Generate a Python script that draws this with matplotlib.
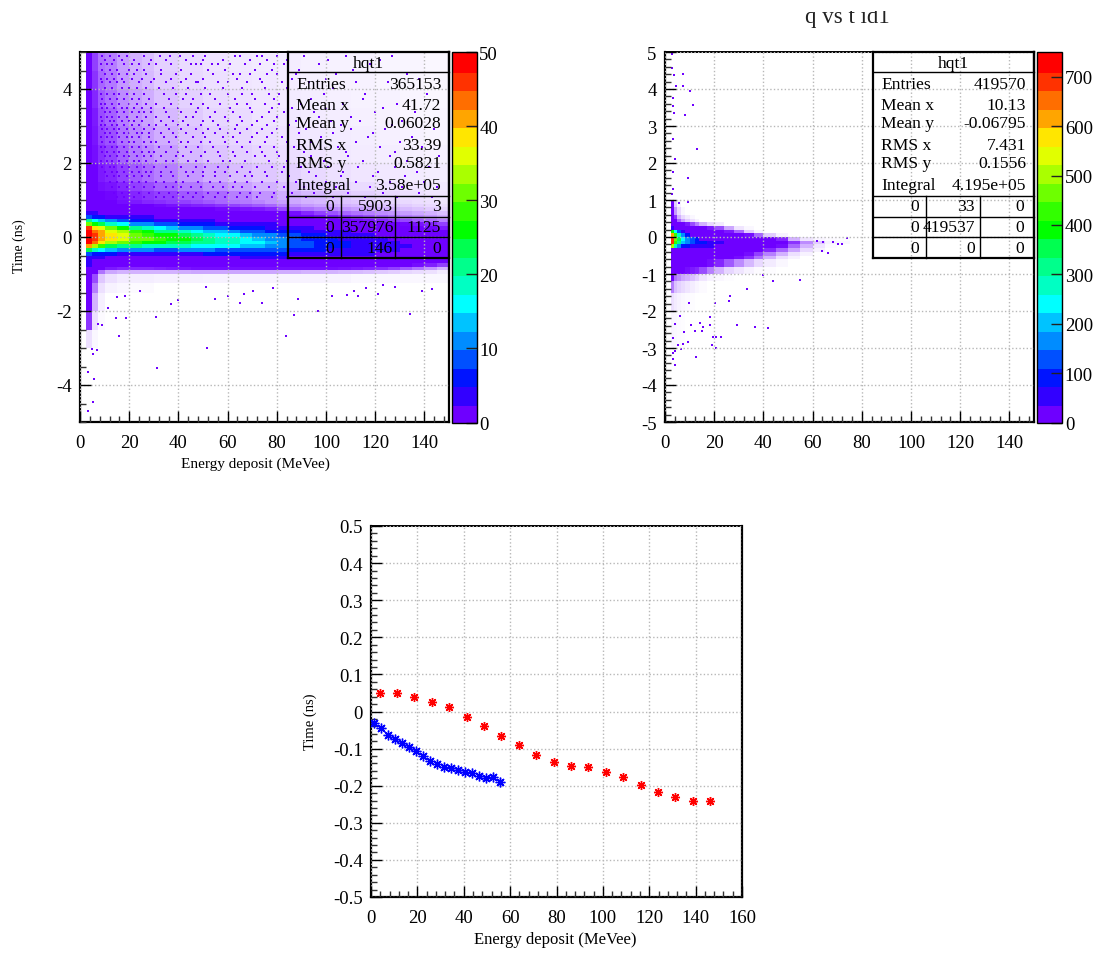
import numpy as np
import matplotlib
matplotlib.use("Agg")
import matplotlib.pyplot as plt
from matplotlib.colors import ListedColormap, BoundaryNorm
from matplotlib.transforms import Bbox
from matplotlib.ticker import MultipleLocator

plt.rcParams['font.family'] = ['Liberation Serif', 'DejaVu Serif']

W, H = 1099, 954

palette_rgb = [(110,0,255),(50,0,255),(0,20,255),(0,80,255),(0,140,255),(0,195,255),(0,255,255),
               (0,255,195),(0,255,140),(0,255,80),(0,255,0),(50,255,0),(110,255,0),(170,255,0),
               (225,255,0),(255,230,0),(255,165,0),(255,110,0),(255,50,0),(255,0,0)]

# ---- left histogram: counts per bin; below 1 = share of occupied bins
# central band, -1 to 1 ns
band_e_edges = [2.5,5,7.5,10,15,20,25,30,35,40,45,50,55,60,65,70,75,80,85,90,95,100,105,110,115,120,125,130,135,140,145,150]
band_t_edges = [1,.9,.8,.7,.6,.5,.4,.3,.2,.1,0,-.1,-.2,-.3,-.4,-.5,-.6,-.7,-.8,-.9,-1]
band_counts = [
 [2,1.4,1.1,1,.95,.9,.85,.82,.78,.75,.7,.65,.6,.55,.52,.48,.42,.38,.34,.3,.28,.26,.24,.22,.2,.18,.16,.15,.13,.12,.1],
 [2,1.5,1.2,1.1,1.05,1,1,.97,.93,.9,.87,.85,.8,.75,.7,.65,.6,.5,.45,.4,.36,.33,.3,.28,.26,.24,.22,.2,.17,.15,.13],
 [2.2,1.8,1.5,1.4,1.3,1.2,1.2,1.15,1.1,1.05,1.02,1,.97,.95,.92,.9,.85,.7,.62,.56,.5,.46,.42,.38,.34,.32,.3,.27,.24,.2,.17],
 [3,2.5,2.2,2,1.8,1.7,1.6,1.55,1.45,1.4,1.35,1.3,1.25,1.2,1.15,1.1,1.05,1,.95,.85,.75,.68,.6,.55,.5,.45,.42,.38,.34,.3,.25],
 [8,6,5,4,3,3,2.5,2.3,2.1,2,1.9,1.8,1.7,1.6,1.5,1.4,1.3,1.15,1.05,1.02,.95,.9,.82,.75,.68,.62,.55,.5,.45,.4,.33],
 [20,16,13,10,8,6,5,4.2,3.8,3.2,2.8,2.5,2.3,2.2,2.1,2,1.8,1.5,1.35,1.25,1.12,1.08,1,.97,.92,.85,.78,.72,.65,.58,.5],
 [32,27,23,18,15,12,10,8.5,7.5,6,5.5,5,4.5,4,3.5,3,2.7,2.3,2.1,1.9,1.6,1.45,1.3,1.2,1.1,1.05,1,.98,.92,.85,.75],
 [45,38,35,30,26,21,18,16,14,11.5,10,9,8,7,6,5,4.5,3.8,3.2,2.8,2.4,2,1.8,1.6,1.4,1.25,1.15,1.08,1.03,.98,.9],
 [50,44,40,36,33,28,25,22,20,17.5,15.5,14,12.5,11,9.5,8,7,6,5,4,3.5,2.9,2.5,2.2,1.9,1.6,1.4,1.25,1.15,1.08,1],
 [52,46,42,38,35,32,29,27,25,22.5,20.5,19,17,15,13,12,10,8.5,7.5,6,5,4.2,3.5,3,2.6,2.2,1.9,1.6,1.4,1.25,1.15],
 [52,47,42,38,35,32,30,28.5,27,25,23,21,19.5,18,16,14,12,10,9,7,6,5,4.2,3.6,3.2,2.8,2.3,2,1.7,1.5,1.3],
 [50,43,38,33,30,28,26,25,24,23,21,20,19,18,16.5,15,13,11,9.5,8,7,5.8,5,4.4,3.8,3.2,2.8,2.4,2,1.8,1.5],
 [42,34,28,24,22,20,19,18,18,18,17,16,15.5,15,14,13,12,10,9,8,7,5.8,5,4.5,3.9,3.4,3,2.6,2.2,1.9,1.6],
 [24,18,15,13,11,10,10,9.5,9.5,10,10,10,9.5,9.5,9,9,8.5,7.5,7,6,5.5,4.8,4.3,3.9,3.4,3,2.7,2.4,2.1,1.9,1.6],
 [9,6,5,5,4.5,4,4,4,4.2,4.5,4.8,5,5,5,5,5,5,5,4.5,4.2,4,3.5,3,2.8,2.6,2.4,2.2,2,1.8,1.6,1.4],
 [4,3,2.5,2.2,2,2,2,2,2,2,2.1,2.2,2.3,2.4,2.5,2.5,2.5,2.5,2.4,2.3,2.2,2.1,2,1.9,1.8,1.7,1.6,1.5,1.4,1.3,1.2],
 [3,2,1.8,1.5,1.4,1.3,1.3,1.3,1.3,1.3,1.3,1.3,1.3,1.3,1.3,1.3,1.3,1.3,1.3,1.3,1.3,1.25,1.25,1.2,1.2,1.15,1.15,1.1,1.1,1.05,1],
 [2.6,1.6,1.3,1.1,1.1,1.1,1.1,1.1,1.1,1.1,1.1,1.1,1.1,1.1,1.1,1.1,1.1,1.1,1.1,1.1,1.1,1.1,1.05,1.05,1.05,1,1,1,.95,.88,.75],
 [2.4,1.3,1,.9,.85,.85,.85,.88,.9,.92,.95,.95,.95,.95,.95,.95,.95,.95,.95,.95,.95,.95,.93,.9,.87,.82,.75,.65,.55,.42,.3],
 [2,1,.55,.35,.3,.3,.3,.3,.3,.33,.35,.35,.35,.35,.35,.35,.35,.33,.33,.3,.3,.3,.28,.27,.25,.22,.2,.16,.14,.12,.08],
]
# upper tail, 1 to 5 ns
upper_e_edges = [2.5,5,7.5,10,15,20,25,30,40,50,60,70,80,90,100,110,120,130,140,150]
upper_t_edges = [5,4.5,4,3.5,3,2.5,2,1.5,1.25,1]
upper_counts = [
 [1.1,.75,.55,.5,.38,.3,.25,.18,.14,.11,.09,.08,.07,.06,.05,.05,.04,.04,.03],
 [1.1,.8,.6,.52,.4,.32,.27,.2,.15,.12,.1,.09,.07,.06,.05,.05,.04,.04,.03],
 [1.2,.85,.65,.56,.45,.38,.32,.24,.18,.14,.12,.1,.08,.07,.06,.05,.05,.04,.03],
 [1.4,.9,.7,.62,.5,.42,.36,.28,.21,.16,.14,.11,.09,.08,.07,.06,.05,.04,.04],
 [1.6,.92,.75,.68,.55,.47,.4,.32,.24,.19,.16,.13,.11,.09,.08,.07,.06,.05,.04],
 [1.8,.95,.82,.74,.62,.52,.46,.38,.28,.23,.19,.16,.13,.11,.09,.08,.07,.06,.05],
 [2,1.0,.9,.85,.75,.65,.58,.5,.4,.33,.26,.22,.18,.15,.12,.1,.09,.08,.07],
 [2,1.1,.95,.92,.85,.75,.7,.62,.52,.44,.37,.3,.24,.19,.16,.14,.12,.1,.09],
 [2,1.2,1.0,.98,.92,.85,.8,.75,.65,.58,.5,.42,.32,.27,.22,.18,.15,.12,.1],
]
# lower tail, -1 to -3 ns
lower_e_edges = [2.5,5,7.5,10,15,20,30,50,80,110,150]
lower_t_edges = [-1,-1.25,-1.5,-2,-2.5,-3]
lower_counts = [
 [1.5,.7,.22,.12,.08,.07,.06,.05,.05,.03],
 [1.3,.5,.12,.05,.03,.02,0,0,0,0],
 [1.1,.3,.06,0,0,0,0,0,0,0],
 [.8,.12,.02,0,0,0,0,0,0,0],
 [.12,.03,0,0,0,0,0,0,0,0],
]
# isolated filled bins: one time per row, the energies on that row
left_speck_t = [4.9,4.78,4.67,4.52,4.4,4.28,4.18,4.02,3.86,3.73,3.6,3.48,3.37,3.25,3.14,3.03,2.92,2.81,2.7,2.56,2.42,2.31,2.2,2.05,1.88,1.77,1.66,1.5,1.35,1.2,1.08]
left_speck_e = [
 [9,12,16,19,26,32.5,36.6,40.6,46,51,63,65,72,74,80,91,108,127],
 [10,14,17,22,29,35,43,50,58,69,76,84,101,122],
 [8.5,11,13,18,21,24,28,31,37,45,47,49,53.5,56,61,67,73,79,83,97,118],
 [9,12,15,20,23,26,33,41,52,59,71,78,89,111],
 [10,13,16,19,22,27,33,39,45,54,62,65,69,76,80,88,104,133],
 [8.5,11,14,17,21,25,30,37,43,50,64,73,86,100,138],
 [9,12,15,18,24,29,35,41,47,48,56,60,68,74,82,93,112,125],
 [10,13,17,20,23,27,32,38,44,51,58,66,75,84,103],
 [8.5,11,14,16,19,22,26,34,39,43,49,53,60,66,70,77,81,99,116,141],
 [9,12,15,18,21,24,28,36,42,46,55,63,71,79,94,115],
 [8.5,10,13,16,20,23,27,31,37,45,50,57,64,68,75,81,90,107,129],
 [9,11,14,17,19,22,25,29,34,40,48,52,61,69,78,86,100,123],
 [10,12,15,18,21,24,26,29,35,41,47,55,62,70,77,83,95,120,136],
 [8.5,11,13,16,19,23,27,31,36,43,46,53,59,65,74,80,97,110],
 [9,12,14,17,20,22,25,33,38,42,50,54,60,66,72,79,88,102,114,131],
 [8.5,10,13,15,18,21,24,28,31,35,40,44,49,56,64,70,76,85,106,127],
 [9,11,14,16,19,22,26,30,36,41,47,52,57,63,68,74,80,92,110,124,144],
 [10,12,15,18,20,23,25,28,33,38,43,50,55,60,65,72,78,89,103,119],
 [8.5,11,13,16,19,21,24,28,34,39,46,51,58,62,70,76,82,98,117,135],
 [9,12,14,17,20,22,26,29,31,36,41,44,49,53,59,64,69,75,84,94,112,130],
 [8.5,10,13,15,18,21,24,27,32,37,43,48,54,60,66,73,79,87,105,122,139],
 [9,11,14,16,19,22,25,28,30,35,40,45,51,56,62,68,74,80,91,108,128],
 [10,12,15,18,20,23,26,29,33,39,42,49,57,63,71,75,81,94,109,126,146],
 [8.5,11,13,16,19,22,24,27,31,35,38,44,47,52,58,61,67,77,84,99,115,133],
 [9,12,14,17,20,23,26,30,35,41,47,51,56,60,66,72,78,83,90,101,113,128,142],
 [10,13,15,18,21,24,27,29,33,37,43,46,50,55,59,64,69,75,82,93,107,121,137],
 [11,14,16,19,22,25,28,33,38,44,50,55,61,67,70,76,85,96,106,119,132],
 [12,15,18,21,24,27,31,34,39,42,48,53,57,63,68,74,80,88,100,112,126,140],
 [13,16,19,22,26,30,35,38,41,45,49,54,58,62,66,71,77,83,91,104,118,131,145],
 [14,17,20,24,28,32,36,40,44,47,52,56,60,65,69,73,79,86,95,109,123,138],
 [15,18,22,26,31,34,38,42,46,50,55,59,64,68,72,78,84,92,103,116,129,143],
]
left_low_e = [5.4,3.3,31.4,51.5,83.6,87,134,96.8,30.9,14.6,18.7,15.7,11.5,14.9,18.3,24.4,37,39.7,51.1,54.9,60.3,65,66.7,70.2,73.8,88.7,102.3,108.4,111.4,112.9,116.3,123.3,128.1,138.9,143,121.3,78.6,5.4,6.8,4.7,3.4,5.8,7.5,8.8]
left_low_t = [-4.47,-4.71,-3.55,-3.01,-2.68,-2.12,-2.09,-1.99,-2.17,-2.2,-2.2,-2.68,-1.93,-1.63,-1.6,-1.46,-1.82,-1.71,-1.36,-1.68,-1.59,-1.79,-1.54,-1.47,-1.79,-1.68,-1.59,-1.57,-1.45,-1.6,-1.39,-1.3,-1.36,-1.47,-1.41,-1.54,-1.39,-3.16,-3.05,-3.03,-3.66,-3.84,-2.35,-2.38]

# ---- right histogram
right_e_edges = [2.5,3.5,5,6.5,8,10,12,14,17,20,24,28,32,36,40,45,50,55,60,65,70,75]
right_t_edges = [1,.8,.6,.5,.4,.3,.2,.1,0,-.1,-.2,-.3,-.4,-.5,-.6,-.8,-1,-1.2,-1.5,-2,-3]
right_counts = [
 [1.5,.2,.05,0,0,0,0,0,0,0,0,0,0,0,0,0,0,0,0,0,0],
 [3,.4,.15,.03,0,0,0,0,0,0,0,0,0,0,0,0,0,0,0,0,0],
 [5,.8,.3,.15,.08,.03,0,0,0,0,0,0,0,0,0,0,0,0,0,0,0],
 [6,1.1,.6,.35,.2,.12,.05,0,0,0,0,0,0,0,0,0,0,0,0,0,0],
 [8,3,1.2,1.05,.9,.7,.5,.3,.15,.08,0,0,0,0,0,0,0,0,0,0,0],
 [60,35,14,5,2,1.3,1.1,1,.9,.7,.35,.1,.03,0,0,0,0,0,0,0,0],
 [400,260,130,50,12,3,1.5,1.1,1.05,1,.9,.6,.2,.05,0,0,0,0,0,0,0],
 [600,430,270,180,90,30,8,3,1.6,1.2,1.05,1,.95,.6,.2,.05,0,0,0,0,0],
 [700,480,340,250,170,120,75,35,10,4,2,1.3,1.1,1.05,1,.85,.3,.1,.04,.02,.01],
 [680,440,300,210,160,130,110,90,70,40,15,6,2.5,1.3,1.1,1.02,.8,.45,.2,.05,.03],
 [500,280,160,100,80,70,65,55,40,22,8,3.5,1.8,1.2,1.05,.95,.6,.3,.1,.02,0],
 [30,18,10,7,6,5,4.5,4,3,2,1.5,1.2,1.05,1,.85,.6,.35,.15,.05,0,0],
 [5,2.5,2,1.7,1.5,1.4,1.3,1.2,1.15,1.1,1.05,1,.95,.75,.5,.3,.12,.05,0,0,0],
 [4,2,1.5,1.3,1.2,1.1,1.1,1.05,1.05,1,1,.95,.8,.55,.3,.12,.05,0,0,0,0],
 [3,1.6,1.2,1.1,1.05,1.02,1,1,.95,.85,.65,.45,.28,.15,.08,.03,0,0,0,0,0],
 [2,1.1,1.02,1,.95,.9,.85,.7,.5,.3,.16,.1,.05,.02,.01,0,0,0,0,0,0],
 [1.2,.55,.45,.35,.3,.25,.18,.1,.05,.03,.01,0,0,0,0,0,0,0,0,0,0],
 [.5,.25,.18,.14,.1,.07,.04,.02,0,0,0,0,0,0,0,0,0,0,0,0,0],
 [.12,.08,.05,.03,.02,.01,0,0,0,0,0,0,0,0,0,0,0,0,0,0,0],
 [.04,.03,.02,.01,0,0,0,0,0,0,0,0,0,0,0,0,0,0,0,0,0],
]
right_speck_e = [18.3,18.3,15.6,14.2,10.4,29.4,36.5,41.7,40,43.8,54.9,33.2,26.4,20.3,26,9.9,6.1,4.1,7.9,12.2,14.9,19.6,20.6,22.6,9.5,19,20.6,5.4,7.5,6.4,3.4,3.1,4.1,12.5,3.4,4.1,
                 73.8,71.8,70.5,68.2,66.4,64.4,63.7,61.7,
                 3.8,7.5,4.4,7.5,10.2,3.4,11.2,3.4,3.8,8,13,4,9.5,3.4,3.4,2.7,2.7,3.4,2.7,9.5,5.8]
right_speck_t = [-2.17,-2.38,-2.44,-2.32,-2.37,-2.37,-2.44,-2.47,-1.03,-1.2,-1.16,-1.41,-1.59,-1.79,-1.74,-1.78,-2.13,-2.35,-2.58,-2.55,-2.55,-2.69,-2.69,-2.71,-2.85,-2.92,-3.01,-2.91,-2.89,-3.03,-2.74,-3.14,-3.09,-3.23,-3.3,-3.46,
                 -.04,-.19,-.19,-.14,-.44,-.14,-.37,-.1,
                 4.37,4.4,4.07,4.07,3.94,3.75,3.56,3.53,3.34,3.29,2.37,2.1,1.59,1.77,2.65,4.95,4.58,1.3,1.17,.94,.92]

# ---- lower panel
red_x = [3.75,11.25,18.75,26.25,33.75,41.25,48.75,56.25,63.75,71.25,78.75,86.25,93.75,101.25,108.75,116.25,123.75,131.25,138.75,146.25]
red_y = [.05,.05,.04,.026,.011,-.0135,-.038,-.066,-.089,-.118,-.135,-.146,-.15,-.164,-.177,-.197,-.216,-.231,-.24,-.24]
red_err = [.004,.003,.003,.003,.003,.003,.003,.003,.003,.003,.003,.004,.004,.004,.004,.005,.005,.006,.008,.010]
blue_x = [1.5,4.5,7.5,10.5,13.5,16.5,19.5,22.5,25.5,28.5,31.5,34.5,37.5,40.5,43.5,46.5,49.5,52.5,55.5]
blue_y = [-.03,-.045,-.062,-.075,-.084,-.095,-.106,-.119,-.134,-.142,-.149,-.152,-.158,-.164,-.166,-.174,-.18,-.176,-.19]
blue_err = [.002,.002,.002,.002,.002,.002,.002,.002,.002,.003,.003,.003,.003,.004,.004,.005,.006,.007,.012]

# ---- stat boxes
left_stats = [("Entries","365153",85),("Mean x","41.72",106),("Mean y","0.06028",124),
              ("RMS x","33.39",146),("RMS y","0.5821",164),("Integral","3.58e+05",186)]
left_cells = [["0","5903","3"],["0","357976","1125"],["0","146","0"]]
right_stats = [("Entries","419570",85),("Mean x","10.13",106),("Mean y","-0.06795",124),
               ("RMS x","7.431",146),("RMS y","0.1556",164),("Integral","4.195e+05",186)]
right_cells = [["0","33","0"],["0","419537","0"],["0","0","0"]]

TICK_PT = 13.5
STAT_PT = 12.6
fig = plt.figure(figsize=(W/100, H/100), dpi=100)

def px_axes(x0, y0, x1, y1):
    return fig.add_axes([x0/W, 1-y1/H, (x1-x0)/W, (y1-y0)/H])

def style(ax, xmaj, xmin, ymaj, ymin, top_dotted=True):
    ax.xaxis.set_major_locator(MultipleLocator(xmaj)); ax.xaxis.set_minor_locator(MultipleLocator(xmin))
    ax.yaxis.set_major_locator(MultipleLocator(ymaj)); ax.yaxis.set_minor_locator(MultipleLocator(ymin))
    ax.tick_params(which='major', direction='in', length=8, width=1, labelsize=TICK_PT, pad=6, color='black')
    ax.tick_params(axis='x', which='major', pad=9)
    ax.tick_params(which='minor', direction='in', length=4, width=1, color='#333333')
    ax.grid(True, which='major', color='#b8b8b8', linestyle=(0,(1,1.6)), linewidth=1)
    ax.set_axisbelow(False)
    for s in ('left','bottom','right'):
        ax.spines[s].set_linewidth(1.6)
    ax.spines['top'].set_linewidth(1.4)
    if top_dotted:
        ax.spines['top'].set_linestyle((0,(1,1)))

palette_rgb_norm = [tuple(c/255 for c in rgb) for rgb in palette_rgb]
cmap = ListedColormap(palette_rgb_norm)

def heat(ax, e_edges, t_edges, counts, norm):
    arr = np.array(counts, dtype=float)
    assert arr.shape == (len(t_edges)-1, len(e_edges)-1)
    share = np.where(arr < 1, arr, 0.0)
    ax.pcolormesh(e_edges, t_edges, np.ones_like(arr), cmap=ListedColormap([palette_rgb_norm[0]]),
                  alpha=share, edgecolors='none', antialiased=False, zorder=1)
    return ax.pcolormesh(e_edges, t_edges, np.ma.masked_less(arr, 1), cmap=cmap, norm=norm,
                         edgecolors='none', antialiased=False, zorder=1.1)

def specks(ax, es, ts):
    ax.scatter(es, ts, s=2.6, marker='s', color=palette_rgb_norm[0], linewidths=0, zorder=1.2)

def stat_box(x0, stats, cells, col_right):
    def X(p): return p/W
    def Y(p): return 1-p/H
    bx0, bx1 = x0, x0+161
    rules = [(73, 1), (197, 1), (217.5, 1), (238, 1), (259, 1.6), (53, 1.6)]
    for py, lw in rules:
        fig.add_artist(plt.Line2D([X(bx0),X(bx1)],[Y(py),Y(py)], lw=lw, color='black'))
    for px in (bx0, bx1):
        fig.add_artist(plt.Line2D([X(px),X(px)],[Y(53),Y(259)], lw=1.6, color='black'))
    for c in (53, 107):
        fig.add_artist(plt.Line2D([X(bx0+c),X(bx0+c)],[Y(197),Y(259)], lw=1, color='black'))
    fig.text(X(bx0+80), Y(64), "hqt1", ha='center', va='center', fontsize=STAT_PT, color='black')
    for name, val, py in stats:
        fig.text(X(bx0+8), Y(py), name, ha='left', va='center', fontsize=STAT_PT, color='black')
        fig.text(X(bx0+153), Y(py), val, ha='right', va='center', fontsize=STAT_PT, color='black')
    for row, py in zip(cells, (207, 228, 249)):
        for v, cx in zip(row, col_right):
            fig.text(X(cx), Y(py), v, ha='right', va='center', fontsize=STAT_PT, color='black')

def colorbar(mesh, x0, x1, ticks):
    cax = px_axes(x0, 53, x1, 423.5)
    cb = fig.colorbar(mesh, cax=cax, spacing='proportional')
    cb.set_ticks(ticks)
    cb.minorticks_off()
    cax.tick_params(which='major', direction='in', length=8, width=1, labelsize=TICK_PT, pad=2, color='#222222')
    cb.outline.set_linewidth(1)
    cb.solids.set_edgecolor('face')
    return cb

# left panel
ax1 = px_axes(80, 53, 449, 423)
norm1 = BoundaryNorm(np.linspace(0, 50, 21), 20, clip=True)
m1 = heat(ax1, band_e_edges, band_t_edges, band_counts, norm1)
heat(ax1, upper_e_edges, upper_t_edges, upper_counts, norm1)
heat(ax1, lower_e_edges, lower_t_edges, lower_counts, norm1)
for t, es in zip(left_speck_t, left_speck_e):
    specks(ax1, es, [t]*len(es))
specks(ax1, left_low_e, left_low_t)
ax1.set_xlim(0, 150); ax1.set_ylim(-5, 5)
style(ax1, 20, 4, 2, 0.5, top_dotted=False)
colorbar(m1, 452, 476.5, list(range(0, 51, 10)))
stat_box(288, left_stats, left_cells, (334, 393, 441))
fig.text(255/W, 1-464/H, "Energy deposit (MeVee)", ha='center', va='center', fontsize=11)
fig.text(19/W, 1-246/H, "Time (ns)", ha='center', va='center', rotation=90, fontsize=10)

# right panel
ax2 = px_axes(665, 53, 1034, 423)
norm2 = BoundaryNorm(np.linspace(0, 750, 21), 20, clip=True)
m2 = heat(ax2, right_e_edges, right_t_edges, right_counts, norm2)
specks(ax2, right_speck_e, right_speck_t)
ax2.set_xlim(0, 150); ax2.set_ylim(-5, 5)
style(ax2, 20, 4, 1, 0.2)
colorbar(m2, 1037, 1062, list(range(0, 701, 100)))
stat_box(873, right_stats, right_cells, (919, 975, 1024))
title = fig.text(847/W, 1-23/H, "q vs t id1", ha='center', va='baseline', fontsize=16.5, color='#222222')
title.set_clip_box(Bbox([[0, 0], [W, H-12]]))
title.set_clip_on(True)

# lower panel
ax3 = px_axes(371, 527, 742, 898)
ax3.errorbar(red_x, red_y, yerr=red_err, fmt='none', ecolor='red', elinewidth=1, zorder=3)
ax3.plot(red_x, red_y, linestyle='none', marker=(8,2,0), ms=6.5, mew=1, color='red', zorder=3)
ax3.plot(red_x, red_y, linestyle='none', marker='o', ms=2.5, mew=0, color='red', zorder=3)
ax3.errorbar(blue_x, blue_y, yerr=blue_err, fmt='none', ecolor='blue', elinewidth=1, zorder=3)
ax3.plot(blue_x, blue_y, linestyle='none', marker=(8,2,0), ms=7, mew=1, color='blue', zorder=3)
ax3.plot(blue_x, blue_y, linestyle='none', marker='o', ms=2.5, mew=0, color='blue', zorder=3)
ax3.set_xlim(0, 160); ax3.set_ylim(-0.5, 0.5)
style(ax3, 20, 4, 0.1, 0.02)
ax3.yaxis.set_major_formatter(plt.FuncFormatter(lambda v, p: "0" if abs(v) < 1e-9 else f"{v:.1f}"))
fig.text(555/W, 1-940/H, "Energy deposit (MeVee)", ha='center', va='center', fontsize=12)
fig.text(310/W, 1-722/H, "Time (ns)", ha='center', va='center', rotation=90, fontsize=10.5)

# ROOT prints plain hyphens in negative tick labels
for ax in (ax1, ax2):
    ax.yaxis.set_major_formatter(plt.FuncFormatter(lambda v, p: f"{v:g}"))
    ax.xaxis.set_major_formatter(plt.FuncFormatter(lambda v, p: f"{v:g}"))
ax3.xaxis.set_major_formatter(plt.FuncFormatter(lambda v, p: f"{v:g}"))

fig.savefig("out.png", dpi=100, facecolor='white')
